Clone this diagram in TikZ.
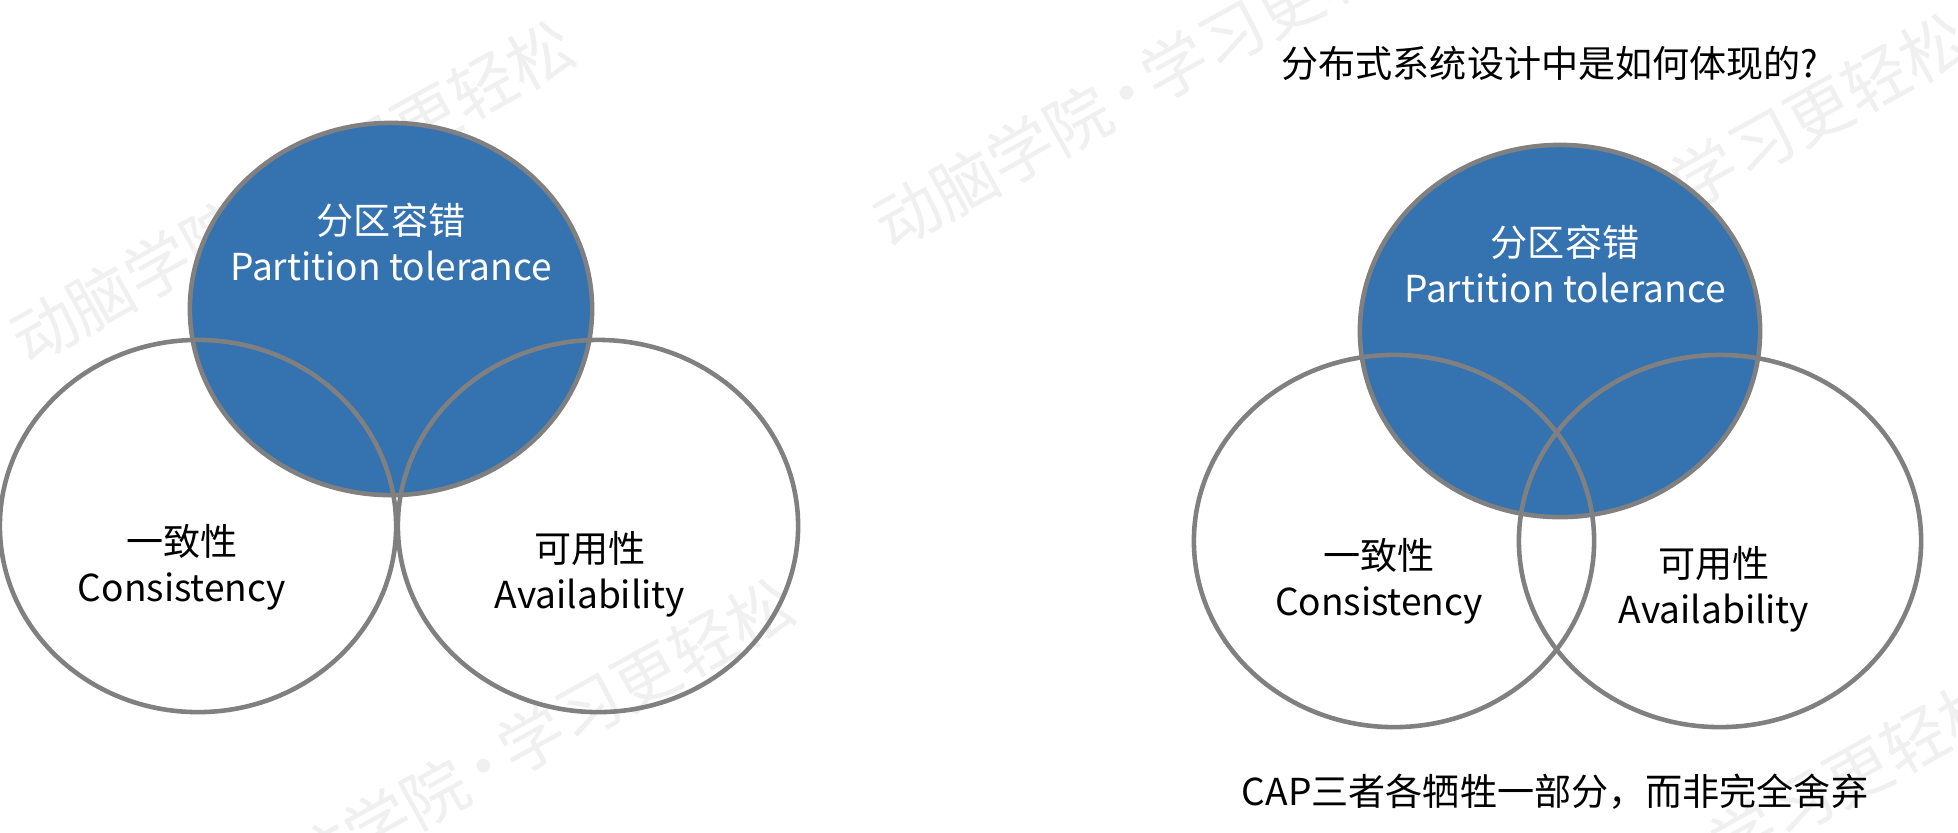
\documentclass[tikz,border=0pt]{standalone}
\usepackage{fontspec}
\setmainfont{Noto Sans CJK SC}
\usetikzlibrary{positioning}

\definecolor{pblue}{RGB}{53,114,176}
\definecolor{ringgray}{RGB}{128,128,128}

\begin{document}
\begin{tikzpicture}[x=0.01cm, y=-0.01cm,
  ring/.style={draw=ringgray, line width=1.3pt},
  ctext/.style={align=center, inner sep=0pt, font=\fontsize{10.55}{13.2}\selectfont},
  wmtext/.style={inner sep=0pt, rotate=29, text=black!6, font=\fontsize{18.5}{20}\selectfont}]
  \path[use as bounding box, fill=white] (0,0) rectangle (1958,832);

  % watermark
  \foreach \x/\y [count=\i] in {292/192, 1155/77, 1685/185, 512/750, 1724/846}
    \node[wmtext] (wm\i) at (\x,\y) {动脑学院\hspace{-0.15em}·\hspace{-0.15em}学习更轻松};

  % left venn
  \draw[ring, fill=pblue] (391,309) ellipse [x radius=2.01cm, y radius=1.86cm];
  \draw[ring] (198,526) ellipse [x radius=1.98cm, y radius=1.86cm];
  \draw[ring] (598,526) ellipse [x radius=2cm, y radius=1.86cm];
  \node[ctext, text=white] (pL) at (391,242) {分区容错\\Partition tolerance};
  \node[ctext] (cL) at (182,567) {一致性\\Consistency};
  \node[ctext] (aL) at (590,574) {可用性\\Availability};

  % right venn
  \node[ctext] (title) at (1550,63) {分布式系统设计中是如何体现的?};
  \draw[ring, fill=pblue] (1560,331) ellipse [x radius=2cm, y radius=1.86cm];
  \draw[ring] (1394,541) ellipse [x radius=2cm, y radius=1.86cm];
  \draw[ring] (1720,541) ellipse [x radius=2.01cm, y radius=1.86cm];
  \node[ctext, text=white] (pR) at (1565,264) {分区容错\\Partition tolerance};
  \node[ctext] (cR) at (1379,581) {一致性\\Consistency};
  \node[ctext] (aR) at (1714,589) {可用性\\Availability};
  \node[ctext] (note) at (1555,792) {CAP三者各牺牲一部分，而非完全舍弃};
\end{tikzpicture}
\end{document}
